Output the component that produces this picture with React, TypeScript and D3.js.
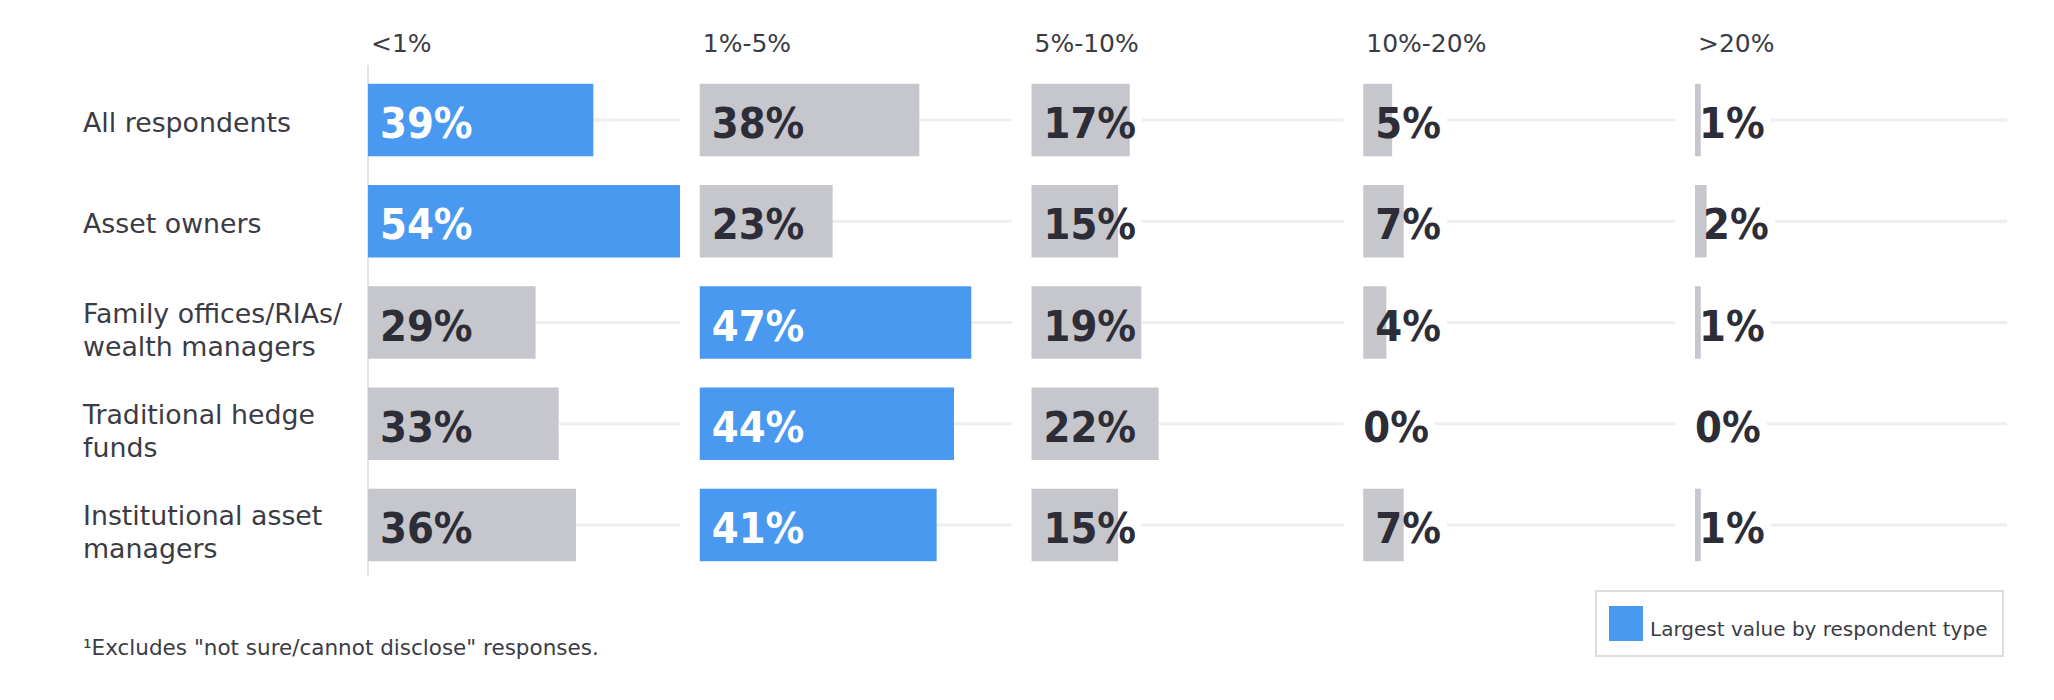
import { useEffect, useRef } from "react"
import * as d3 from "d3"

// column headers (share ranges)
const ranges = ["<1%", "1%-5%", "5%-10%", "10%-20%", ">20%"]

// respondent types, "\n" marks a line break in the row label
const respondents = [
  "All respondents",
  "Asset owners",
  "Family offices/RIAs/\nwealth managers",
  "Traditional hedge\nfunds",
  "Institutional asset\nmanagers",
]

// values per range, one entry per respondent type
const lessThan1 = [39, 54, 29, 33, 36]
const from1to5 = [38, 23, 47, 44, 41]
const from5to10 = [17, 15, 19, 22, 15]
const from10to20 = [5, 7, 4, 0, 7]
const over20 = [1, 2, 1, 0, 1]

const footnote = "\u00B9Excludes \"not sure/cannot disclose\" responses."
const legendLabel = "Largest value by respondent type"

const BLUE = "#4a99f0"
const GREY = "#c6c6cd"
const DARK = "#2d2d37"
const LABEL = "#3b3b45"

const WIDTH = 2054
const HEIGHT = 700

export default function App() {
  const svgRef = useRef<SVGSVGElement>(null)

  useEffect(() => {
    if (!svgRef.current) return
    const svg = d3.select(svgRef.current)
    svg.selectAll("*").remove()

    const series = [lessThan1, from1to5, from5to10, from10to20, over20]
    const rowMax = respondents.map((_, i) => d3.max(series, (s) => s[i]) as number)
    const allMax = d3.max(series.flat()) as number

    // layout
    const colStep = 331.75
    const col = d3
      .scaleBand<string>()
      .domain(ranges)
      .range([368, 368 + colStep * ranges.length])
      .padding(0)
    const x = d3.scaleLinear().domain([0, allMax]).range([0, 312])
    const y = d3
      .scaleBand<string>()
      .domain(respondents)
      .range([69.4, 575.6])
      .paddingInner(0.284)
      .paddingOuter(0.142)
    const barH = y.bandwidth()
    const rowCenter = (r: string) => (y(r) as number) + barH / 2

    const root = svg.append("g")

    // column headers
    root
      .selectAll("text.header")
      .data(ranges)
      .enter()
      .append("text")
      .attr("class", "header")
      .attr("x", (d) => (col(d) as number) + 3)
      .attr("y", 52)
      .attr("fill", LABEL)
      .style("font-family", "DejaVu Sans, sans-serif")
      .style("font-size", "25px")
      .text((d) => d)

    // row labels
    const rowLabel = root
      .selectAll("text.row-label")
      .data(respondents)
      .enter()
      .append("text")
      .attr("class", "row-label")
      .attr("fill", LABEL)
      .style("font-family", "DejaVu Sans, sans-serif")
      .style("font-size", "26.8px")
    rowLabel.each(function (d) {
      const lines = d.split("\n")
      const base = rowCenter(d) + (lines.length === 1 ? 12 : 0)
      d3.select(this)
        .selectAll("tspan")
        .data(lines)
        .enter()
        .append("tspan")
        .attr("x", 83)
        .attr("y", (_, i) => base + i * 33)
        .text((l) => l)
    })

    // axis line of the first column
    root
      .append("line")
      .attr("x1", col(ranges[0]) as number)
      .attr("x2", col(ranges[0]) as number)
      .attr("y1", 65)
      .attr("y2", 576)
      .attr("stroke", "#e4e4e8")
      .attr("stroke-width", 2)

    ranges.forEach((range, c) => {
      const values = series[c]
      const x0 = col(range) as number
      const g = root.append("g").attr("transform", `translate(${x0},0)`)

      respondents.forEach((resp, r) => {
        const v = values[r]
        const w = x(v)
        const cy = rowCenter(resp)
        const highlight = v === rowMax[r]

        const grid = g
          .append("line")
          .attr("x2", x.range()[1])
          .attr("y1", cy)
          .attr("y2", cy)
          .attr("stroke", "#eeeef0")
          .attr("stroke-width", 3)

        if (v > 0) {
          g.append("rect")
            .attr("x", 0)
            .attr("y", y(resp) as number)
            .attr("width", w)
            .attr("height", barH)
            .attr("fill", highlight ? BLUE : GREY)
        }

        const tx = Math.min(w * 0.7, 12)
        const label = g
          .append("text")
          .attr("x", tx)
          .attr("y", cy + 18)
          .attr("fill", highlight ? "#ffffff" : DARK)
          .style("font-family", "DejaVu Sans Condensed, DejaVu Sans, sans-serif")
          .style("font-stretch", "condensed")
          .style("font-weight", "bold")
          .style("font-size", "43px")
          .text(`${v}%`)

        const textEnd = tx + (label.node() as SVGTextElement).getComputedTextLength()
        grid.attr("x1", Math.min(Math.max(w, textEnd + 6), x.range()[1]))
      })
    })

    // footnote
    root
      .append("text")
      .attr("x", 83)
      .attr("y", 655)
      .attr("fill", LABEL)
      .style("font-family", "DejaVu Sans, sans-serif")
      .style("font-size", "21.5px")
      .text(footnote)

    // legend
    const legend = root.append("g").attr("transform", "translate(1596,591)")
    legend
      .append("rect")
      .attr("width", 407)
      .attr("height", 65)
      .attr("fill", "#ffffff")
      .attr("stroke", "#dcdcdf")
      .attr("stroke-width", 2)
    legend.append("rect").attr("x", 13).attr("y", 15).attr("width", 34).attr("height", 35).attr("fill", BLUE)
    legend
      .append("text")
      .attr("x", 54)
      .attr("y", 45)
      .attr("fill", LABEL)
      .style("font-family", "DejaVu Sans, sans-serif")
      .style("font-size", "20px")
      .text(legendLabel)
  }, [])

  return (
    <svg
      ref={svgRef}
      width={WIDTH}
      height={HEIGHT}
      style={{ position: "absolute", left: 0, top: 0, background: "#ffffff" }}
    />
  )
}
